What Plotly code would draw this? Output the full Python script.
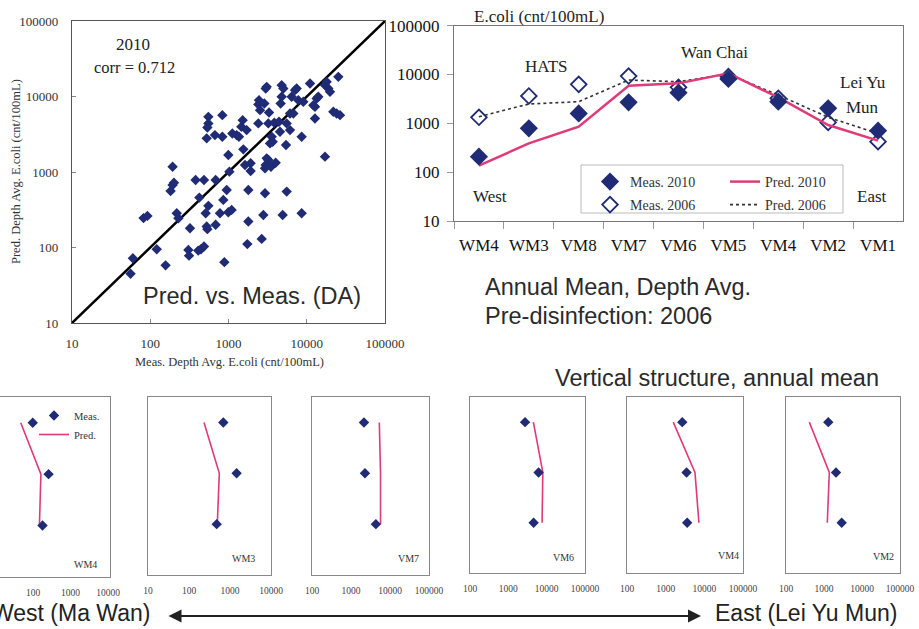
import plotly.graph_objects as go

W, H = 919, 629
SERIF = "Liberation Serif, Times New Roman, serif"
SANS = "Liberation Sans, Arial, sans-serif"
NAVY = "#1f2b74"
PINK = "#e03a78"

# ---------------- data ----------------
# Scatter: depth-averaged E.coli, 2010 (cnt/100mL)
meas_da = [56, 60, 121, 157, 82, 92, 193, 193, 201, 182,
           218, 229, 322, 307, 313, 380, 424, 486, 445, 486,
           411, 511, 526, 537, 553, 553, 553, 537, 526, 685,
           685, 834, 671, 834, 859, 948, 1026, 778, 995, 1097,
           885, 995, 1120, 1271, 1361, 1459, 1549, 1518, 1706, 1625,
           1792, 1792, 1741, 1918, 1918, 2453, 2405, 2528, 2405, 2656,
           2872, 2986, 3076, 2789, 2926, 2986, 2926, 3076, 3229, 3229,
           3296, 3566, 3667, 3390, 3490, 3851, 4005, 4780, 5020, 4640,
           4420, 4550, 4780, 4920, 5430, 5540, 5540, 6110, 6110, 6410,
           6740, 7080, 7430, 7800, 8610, 8610, 9040, 11010, 12140, 12740,
           12740, 13380, 14060, 17100, 17100, 17960, 18870, 19820, 21860, 24110,
           25330, 26600]
pred_da = [45, 72, 95, 58, 245, 262, 1175, 673, 723, 561,
           284, 244, 180, 93, 78, 784, 458, 784, 95, 103,
           91, 284, 190, 175, 356, 5380, 4400, 3890, 2790, 784,
           200, 5660, 3080, 2930, 427, 578, 1010, 284, 293, 315,
           64, 1680, 3240, 3080, 2930, 3970, 1995, 4860, 3590, 1240,
           578, 221, 111, 1303, 1030, 8950, 7840, 6590, 4400, 130,
           8080, 12760, 13430, 270, 522, 1240, 1117, 1517, 1442, 4400,
           6150, 2930, 2520, 2393, 1175, 4490, 1328, 14130, 12760, 8080,
           4630, 3410, 9910, 270, 2275, 550, 4400, 5960, 3590, 9910,
           5960, 12130, 12760, 8950, 284, 2930, 8510, 14860, 7670, 7300,
           5120, 9420, 9910, 14130, 1596, 15630, 12760, 11530, 6270, 5960,
           18200, 5660]
one_to_one = [10, 100000]

# Along-harbour annual means
stations = ["WM4", "WM3", "VM8", "VM7", "VM6", "VM5", "VM4", "VM2", "VM1"]
meas_2010 = [208, 790, 1600, 2690, 4250, 8090, 2780, 2030, 708]
pred_2010 = [136, 389, 855, 5900, 6590, 10570, 3400, 925, 442]
meas_2006 = [1330, 3630, 6300, 9310, 5460, 9040, 3250, 1047, 422]
pred_2006 = [1370, 2490, 2780, 7710, 7130, 10240, 3800, 1330, 620]

# Vertical structure (surface, middle, bottom)
depth_levels = [1, 2, 3]
vert_stations = ["WM4", "WM3", "VM7", "VM6", "VM4", "VM2"]
vert_meas = [[98, 259, 179], [687, 1450, 473], [2150, 2280, 4340],
             [2730, 6150, 4570], [2690, 3470, 3600], [1297, 2070, 2920]]
vert_pred = [[47, 162, 148], [232, 549, 490], [5320, 5720, 5720],
             [4500, 7930, 7590], [1570, 5730, 7240], [410, 1380, 1220]]
vert_ticks = [[100, 1000, 10000], [10, 100, 1000, 10000],
              [100, 1000, 10000, 100000], [100, 1000, 10000, 100000],
              [100, 1000, 10000, 100000], [100, 1000, 10000, 100000]]

# ---------------- helpers ----------------
def px(x):
    return x / W

def py(y):
    return 1 - y / H

fig = go.Figure()

# ---- scatter panel ----
fig.add_trace(go.Scatter(x=one_to_one, y=one_to_one, mode="lines",
                         line=dict(color="black", width=2.5),
                         xaxis="x", yaxis="y", showlegend=False, hoverinfo="skip"))
fig.add_trace(go.Scatter(x=meas_da, y=pred_da, mode="markers",
                         marker=dict(symbol="diamond", size=8, color=NAVY),
                         xaxis="x", yaxis="y", showlegend=False))

# ---- along-harbour panel ----
fig.add_trace(go.Scatter(x=stations, y=meas_2006, mode="markers", name="Meas. 2006",
                         marker=dict(symbol="diamond-open", size=12, color=NAVY,
                                     line=dict(width=1.8, color=NAVY)),
                         xaxis="x2", yaxis="y2", legend="legend2"))
fig.add_trace(go.Scatter(x=stations, y=pred_2006, mode="lines", name="Pred. 2006",
                         line=dict(color="#333333", width=1.6, dash="dot"),
                         xaxis="x2", yaxis="y2", legend="legend2"))
fig.add_trace(go.Scatter(x=stations, y=pred_2010, mode="lines", name="Pred. 2010",
                         line=dict(color=PINK, width=2.5),
                         xaxis="x2", yaxis="y2", legend="legend"))
fig.add_trace(go.Scatter(x=stations, y=meas_2010, mode="markers", name="Meas. 2010",
                         marker=dict(symbol="diamond", size=14, color=NAVY),
                         xaxis="x2", yaxis="y2", legend="legend"))

# ---- vertical structure panels ----
for i in range(6):
    ax = str(i + 3)
    fig.add_trace(go.Scatter(x=vert_pred[i], y=depth_levels, mode="lines", name="Pred.",
                             line=dict(color=PINK, width=1.6),
                             xaxis="x" + ax, yaxis="y" + ax,
                             showlegend=(i == 0), legend="legend3"))
    fig.add_trace(go.Scatter(x=vert_meas[i], y=depth_levels, mode="markers", name="Meas.",
                             marker=dict(symbol="diamond", size=8, color=NAVY),
                             xaxis="x" + ax, yaxis="y" + ax,
                             showlegend=(i == 0), legend="legend3"))

# ---------------- layout ----------------
axis_font = dict(family=SERIF, size=13, color="#333")
decades = [10, 100, 1000, 10000, 100000]
layout = dict(
    width=W, height=H, margin=dict(l=0, r=0, t=0, b=0, autoexpand=False),
    paper_bgcolor="white", plot_bgcolor="white",
    font=dict(family=SERIF, color="#222"),
    xaxis=dict(type="log", range=[1, 5], domain=[px(72), px(385)], anchor="y",
               tickvals=decades, ticktext=[str(v) for v in decades],
               ticks="inside", ticklen=4, tickcolor="#888", tickangle=0,
               showline=True, linecolor="#555", linewidth=1.2, mirror=True,
               showgrid=False, zeroline=False, tickfont=axis_font, ticklabelstandoff=8,
               automargin=False),
    yaxis=dict(type="log", range=[1, 5], domain=[py(323), py(21)], anchor="x",
               tickvals=decades, ticktext=[str(v) for v in decades],
               ticks="inside", ticklen=4, tickcolor="#888",
               showline=True, linecolor="#555", linewidth=1.2, mirror=True,
               showgrid=False, zeroline=False, tickfont=axis_font, ticklabelstandoff=10,
               automargin=False),
    xaxis2=dict(type="category", range=[-0.5, 8.5], domain=[px(454), px(903)], anchor="y2",
                tickson="boundaries", ticks="outside", ticklen=7, tickcolor="#999",
                tickangle=0,
                showline=True, linecolor="#777", linewidth=1.2, mirror=True,
                showgrid=False, zeroline=False,
                tickfont=dict(family=SERIF, size=17, color="#111"), ticklabelstandoff=8,
                automargin=False),
    yaxis2=dict(type="log", range=[1, 5], domain=[py(221), py(25.7)], anchor="x2",
                tickvals=decades, ticktext=[str(v) for v in decades],
                ticks="outside", ticklen=6, tickcolor="#999",
                showline=True, linecolor="#777", linewidth=1.2, mirror=True,
                showgrid=False, zeroline=False,
                tickfont=dict(family=SERIF, size=17, color="#111"), ticklabelstandoff=4,
                automargin=False),
    showlegend=True,
    legend=dict(x=px(590), y=py(166), xanchor="left", yanchor="top",
                orientation="h", traceorder="reversed", bgcolor="rgba(0,0,0,0)",
                font=dict(family=SERIF, size=14, color="#333"),
                entrywidth=90, itemwidth=30),
    legend2=dict(x=px(590), y=py(189), xanchor="left", yanchor="top",
                 orientation="h", traceorder="normal", bgcolor="rgba(0,0,0,0)",
                 font=dict(family=SERIF, size=14, color="#333"),
                 entrywidth=90, itemwidth=30),
    legend3=dict(x=px(34), y=py(401), xanchor="left", yanchor="top",
                 orientation="v", traceorder="reversed", bgcolor="rgba(0,0,0,0)",
                 font=dict(family=SERIF, size=10.5, color="#333"),
                 itemwidth=30, tracegroupgap=0),
)

panel_dom = [(0, 110, 397, 577, [1.12, 4.05]),
             (148, 271, 397, 575, [1, 4]),
             (312, 429, 397, 575, [2, 5]),
             (470, 585, 397, 573, [2, 5]),
             (627, 743, 397, 573, [2, 5]),
             (786, 900, 397, 573, [2, 5])]
for i, (x0, x1, y0, y1, rng) in enumerate(panel_dom):
    ax = str(i + 3)
    layout["xaxis" + ax] = dict(type="log", range=rng, domain=[px(x0), px(x1)],
                                anchor="y" + ax, tickvals=vert_ticks[i],
                                ticktext=[str(v) for v in vert_ticks[i]],
                                ticks="", showline=True, linecolor="#888", linewidth=1,
                                mirror=True, showgrid=False, zeroline=False, tickangle=0,
                                tickfont=dict(family=SERIF, size=9.5, color="#444"),
                                ticklabelstandoff=7, automargin=False)
    layout["yaxis" + ax] = dict(range=[4, 0.5], domain=[py(y1), py(y0)], anchor="x" + ax,
                                showticklabels=False, ticks="", showline=True,
                                linecolor="#888", linewidth=1, mirror=True,
                                showgrid=False, zeroline=False, automargin=False)

fig.update_layout(**layout)

# ---------------- annotations ----------------
def txt(x, y, s, size, family=SERIF, color="#222", xanchor="center", angle=0):
    fig.add_annotation(x=px(x), y=py(y), xref="paper", yref="paper", text=s,
                       showarrow=False, xanchor=xanchor, yanchor="middle",
                       textangle=angle, font=dict(family=family, size=size, color=color))

# scatter panel texts
txt(133, 44, "2010", 17)
txt(134, 67, "corr = 0.712", 16.5)
txt(252, 296, "Pred. vs. Meas. (DA)", 23.5, family=SANS, color="#2a2a2a")
txt(229, 362, "Meas. Depth Avg. E.coli (cnt/100mL)", 12.5, color="#333")
txt(16, 172, "Pred. Depth Avg. E.coli (cnt/100mL)", 12.5, color="#333", angle=-90)

# along-harbour texts
txt(539, 17, "E.coli (cnt/100mL)", 17)
txt(546, 66, "HATS", 17)
txt(714, 53, "Wan Chai", 17)
txt(863, 82, "Lei Yu", 17)
txt(862, 107, "Mun", 17)
txt(490, 196, "West", 17)
txt(872, 196, "East", 17)
fig.add_shape(type="rect", xref="paper", yref="paper",
              x0=px(581), x1=px(843), y0=py(213), y1=py(165),
              line=dict(color="#bbb", width=1), fillcolor="rgba(0,0,0,0)")

txt(483, 287, "Annual Mean, Depth Avg.", 23.5, family=SANS, color="#2a2a2a", xanchor="left")
txt(483, 316, "Pre-disinfection: 2006", 23.5, family=SANS, color="#2a2a2a", xanchor="left")
txt(553, 378, "Vertical structure, annual mean", 23.5, family=SANS, color="#2a2a2a", xanchor="left")

# panel station labels
label_pos = [(85, 564), (243, 558), (408, 558), (563, 557), (728, 555), (883, 556)]
for (lx, ly), s in zip(label_pos, vert_stations):
    txt(lx, ly, s, 10, color="#333")

# West / East arrow
txt(152, 613, "West (Ma Wan)", 23, family=SANS, color="#222", xanchor="right")
txt(713, 613, "East (Lei Yu Mun)", 23, family=SANS, color="#222", xanchor="left")
fig.add_annotation(x=px(701), y=py(616), xref="paper", yref="paper",
                   ax=-534, ay=0, text="", showarrow=True,
                   arrowhead=2, arrowsize=1.3, arrowwidth=2, arrowcolor="#222",
                   arrowside="end+start")

fig.write_html("out.html", config={"displayModeBar": False},
               post_script="document.body.style.margin='0';document.body.style.overflow='hidden';")
